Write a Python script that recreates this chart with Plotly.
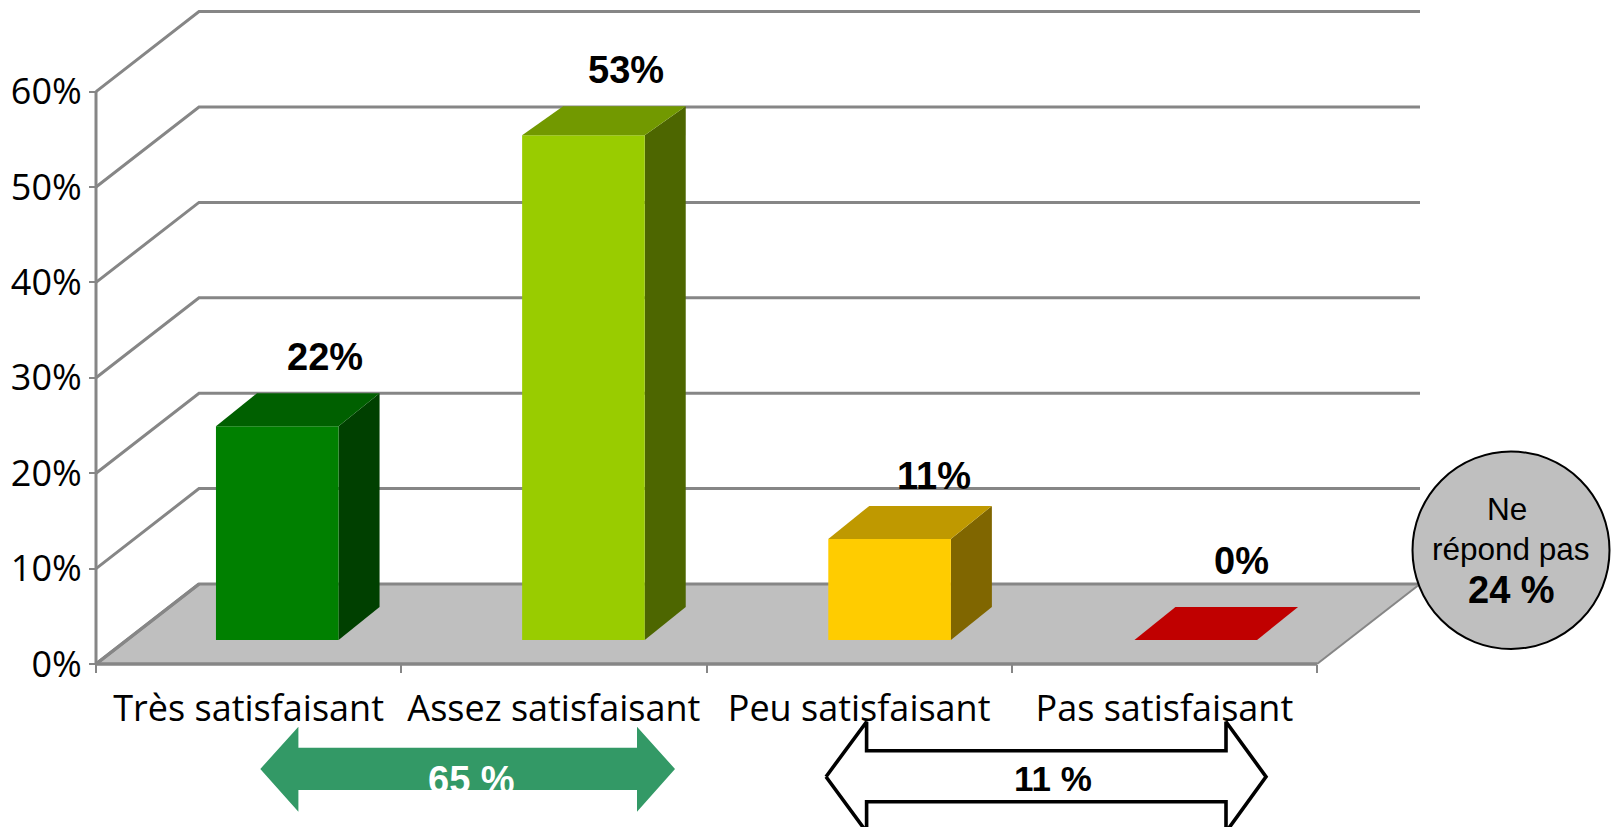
import plotly.graph_objects as go

# ---- data ----
categories = ["Très satisfaisant", "Assez satisfaisant", "Peu satisfaisant", "Pas satisfaisant"]
values = [22.4, 52.9, 10.6, 0.0]
value_labels = ["22%", "53%", "11%", "0%"]
y_ticks = [0, 10, 20, 30, 40, 50, 60]
y_tick_labels = ["0%", "10%", "20%", "30%", "40%", "50%", "60%"]
front_colors = ["#008000", "#99CC00", "#FFCC00", "#C00000"]
top_colors = ["#006000", "#729900", "#BF9900", "#BF0000"]
side_colors = ["#004000", "#4D6600", "#806600", "#600000"]
label_lift = [36, 36, 30, 46]
label_shift = [27, 22, 24, 25]
bar_rise_px = [33, 29, 33, 33]
group_good = "65 %"
group_bad = "11 %"
no_answer = ["Ne", "répond pas", "24 %"]

# ---- canvas & scales ----
W, H = 1618, 827
X0, UX = 96.0, 305.25     # pixel of category 0, pixels per category
Y0, UY = 664.0, 9.54      # pixel of 0%, pixels per percent
X = lambda px: (px - X0) / UX
Y = lambda py: (Y0 - py) / UY

GRID = "#868686"
DEPTH_X, DEPTH_Y = X(199), Y(584)        # depth of the chart box
BAR_DX = 41 / UX                         # depth of a bar
BAR_LEFT, BAR_STEP, BAR_W = 0.393, 1.003, 122.6 / UX
BAR_BASE = 24 / UY
N = len(categories)

fig = go.Figure()


def poly(xs, ys, fill, line=None, width=0):
    fig.add_trace(go.Scatter(
        x=xs, y=ys, mode="lines", fill="toself", fillcolor=fill,
        line=dict(color=line or fill, width=width if line else 0),
        hoverinfo="skip", showlegend=False))


def line(xs, ys, color=GRID, width=3):
    fig.add_trace(go.Scatter(
        x=xs, y=ys, mode="lines", line=dict(color=color, width=width),
        hoverinfo="skip", showlegend=False))


# floor
poly([0, N, N + DEPTH_X, DEPTH_X, 0], [0, 0, DEPTH_Y, DEPTH_Y, 0], "#BFBFBF")

# grid: side wall and back wall
for t in y_ticks:
    line([0, DEPTH_X, N + DEPTH_X], [t, t + DEPTH_Y, t + DEPTH_Y])
line([0, 0], [0, y_ticks[-1]])
line([0, N], [0, 0], width=3.4)
line([0, DEPTH_X], [0, DEPTH_Y], width=3.4)
line([N + 0.008, N + DEPTH_X + 0.008], [-0.1, DEPTH_Y - 0.1], color="#FFFFFF", width=2)
line([N, N + DEPTH_X], [0, DEPTH_Y], width=2)

# 3D bars
for i, v in enumerate(values):
    l = BAR_LEFT + i * BAR_STEP
    r = l + BAR_W
    b = BAR_BASE
    t = BAR_BASE + v
    base_rise = 33 / UY
    rise = bar_rise_px[i] / UY
    if v > 0:
        poly([r, r + BAR_DX, r + BAR_DX, r, r],
             [b, b + base_rise, t + rise, t, b], side_colors[i])
        poly([l, r, r, l, l], [b, b, t, t, b], front_colors[i])
        poly([l, r, r + BAR_DX, l + BAR_DX, l],
             [t, t, t + rise, t + rise, t], top_colors[i])
    else:
        poly([l, r, r + BAR_DX, l + BAR_DX, l],
             [t, t, t + rise, t + rise, t], front_colors[i])
    fig.add_annotation(
        x=l + (BAR_W + BAR_DX) / 2, y=t + rise, text="<b>%s</b>" % value_labels[i],
        xshift=label_shift[i], yshift=label_lift[i], showarrow=False, xanchor="center", yanchor="middle",
        font=dict(family="Liberation Sans", size=38, color="#000000"))


# bracket arrows below the axis
def arrow(tip_l, base_l, base_r, tip_r, head_t, body_t, mid, body_b, head_b, fill, edge=None, width=0):
    px = [tip_l, base_l, base_l, base_r, base_r, tip_r, base_r, base_r, base_l, base_l, tip_l]
    py = [mid, head_t, body_t, body_t, head_t, mid, head_b, body_b, body_b, head_b, mid]
    poly([X(p) for p in px], [Y(p) for p in py], fill, edge, width)


arrow(260.3, 298.4, 637, 675, 726.7, 747.7, 769, 790, 811.7, "#339966")
arrow(826, 866.6, 1226, 1266, 721.7, 750.7, 776.7, 801.7, 832, "#FFFFFF", "#000000", 3.6)

fig.add_annotation(x=X(471), y=Y(779.5), text="<b>%s</b>" % group_good, showarrow=False,
                   font=dict(family="Liberation Sans", size=38, color="#FFFFFF"))
fig.add_annotation(x=X(1053), y=Y(778), text="<b>%s</b>" % group_bad, showarrow=False,
                   font=dict(family="Liberation Sans", size=35, color="#000000"))

# "no answer" bubble
fig.add_shape(type="circle", xref="x", yref="y", x0=X(1412.5), x1=X(1609.5), y0=Y(649), y1=Y(451.5),
              fillcolor="#BFBFBF", line=dict(color="#000000", width=2), layer="above")
for txt, px, py, bold, size in zip(no_answer, [1507, 1511, 1511], [509, 549, 590],
                                   [False, False, True], [31.5, 31.5, 38]):
    fig.add_annotation(x=X(px), y=Y(py), text="<b>%s</b>" % txt if bold else txt, showarrow=False,
                       font=dict(family="Liberation Sans", size=size, color="#000000"))

# invisible trace that makes the overlaying category axis live
fig.add_trace(go.Scatter(x=[0.5], y=[0], xaxis="x2", mode="markers", marker=dict(opacity=0),
                         hoverinfo="skip", showlegend=False))

fig.update_layout(
    width=W, height=H, margin=dict(l=0, r=0, t=0, b=0),
    paper_bgcolor="#FFFFFF", plot_bgcolor="#FFFFFF", showlegend=False,
    xaxis=dict(range=[X(0), X(W)], domain=[0, 1], anchor="free", position=(H - Y0) / H,
               tickvals=list(range(N + 1)), ticktext=[""] * (N + 1), ticks="outside", ticklen=8,
               tickwidth=2, tickcolor=GRID, showgrid=False, zeroline=False, showline=False),
    xaxis2=dict(range=[X(0), X(W)], domain=[0, 1], overlaying="x", anchor="free", position=(H - Y0) / H,
                side="bottom", tickvals=[i + 0.5 for i in range(N)], ticktext=categories,
                ticks="outside", ticklen=13, tickcolor="rgba(0,0,0,0)", showgrid=False, zeroline=False,
                showline=False, tickfont=dict(family="Open Sans", size=36, color="#000000")),
    yaxis=dict(range=[Y(H), Y(0)], domain=[0, 1], anchor="free", position=X0 / W,
               tickvals=y_ticks, ticktext=y_tick_labels, ticks="outside", ticklen=7,
               tickwidth=2.4, tickcolor=GRID, showgrid=False, zeroline=False, showline=False,
               tickfont=dict(family="Open Sans", size=36, color="#000000")),
)

fig.write_html("out.html", config=dict(displayModeBar=False),
               post_script="document.body.style.margin='0';document.documentElement.style.overflow='hidden';")
